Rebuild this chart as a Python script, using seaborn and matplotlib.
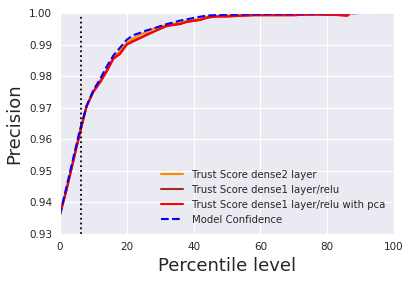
import numpy as np
import pandas as pd
import matplotlib
matplotlib.use("Agg")
import matplotlib.pyplot as plt
import seaborn as sns

sns.set_style("darkgrid")

percentiles = list(range(0, 87, 2)) + [87, 88, 90, 92, 94, 96, 98, 100]

model_conf = [0.936, 0.945, 0.954, 0.963, 0.9705, 0.9755, 0.979, 0.983, 0.9865, 0.989,
              0.9915, 0.993, 0.9937, 0.9945, 0.9951, 0.9958, 0.9965, 0.9970, 0.9976, 0.9980,
              0.9984, 0.9988, 0.9992, 0.9993, 0.9994, 0.9995,
              0.9995, 0.9996, 0.9996, 0.9996, 0.9997, 0.9997, 0.9997, 0.9997, 0.9997,
              0.9997, 0.9998, 0.9998, 0.9998, 0.9998, 0.9999, 0.9999, 0.9999, 0.9999,
              0.9999, 0.9999, 1.0, 1.0, 1.0, 1.0, 1.0, 1.0]

dense2 = [0.936, 0.9445, 0.9535, 0.9625, 0.9705, 0.9752, 0.9785, 0.982, 0.9858, 0.988,
          0.9905, 0.992, 0.9932, 0.9940, 0.9950, 0.9957, 0.9961, 0.9965, 0.9970, 0.9975,
          0.9978, 0.9982, 0.9988, 0.9990, 0.9991, 0.9992,
          0.9993, 0.9993, 0.9994, 0.9994, 0.9995, 0.9995, 0.9995, 0.9994, 0.9994,
          0.9995, 0.9996, 0.9996, 0.9996, 0.9996, 0.9997, 0.9997, 0.9996, 0.9995,
          1.0, 1.0, 1.0, 1.0, 1.0, 1.0, 1.0, 1.0]

dense1 = [0.936, 0.944, 0.953, 0.962, 0.9705, 0.975, 0.978, 0.9815, 0.9855, 0.9872,
          0.990, 0.9912, 0.9922, 0.9932, 0.9941, 0.9950, 0.9958, 0.9962, 0.9965, 0.9972,
          0.9975, 0.9978, 0.9985, 0.9988, 0.9989, 0.9989,
          0.9990, 0.9991, 0.9992, 0.9993, 0.9993, 0.9993, 0.9993, 0.9993, 0.9993,
          0.9993, 0.9994, 0.9995, 0.9995, 0.9995, 0.9994, 0.9994, 0.9993, 0.9992,
          1.0, 1.0, 1.0, 1.0, 1.0, 1.0, 1.0, 1.0]

dense1_pca = [0.936, 0.944, 0.953, 0.962, 0.9705, 0.975, 0.978, 0.9815, 0.9855, 0.987,
              0.990, 0.991, 0.992, 0.993, 0.994, 0.995, 0.996, 0.9963, 0.9965, 0.9972,
              0.9975, 0.9978, 0.9985, 0.9988, 0.9989, 0.9989,
              0.9990, 0.9991, 0.9992, 0.9993, 0.9993, 0.9993, 0.9993, 0.9993, 0.9993,
              0.9993, 0.9994, 0.9995, 0.9995, 0.9995, 0.9994, 0.9994, 0.9993, 0.9991,
              1.0, 1.0, 1.0, 1.0, 1.0, 1.0, 1.0, 1.0]

cutoff = 6.3

fig = plt.figure(figsize=(4.1, 2.82), dpi=100)
ax = fig.add_axes([0.146, 0.170, 0.815, 0.784])

sns.lineplot(x=percentiles, y=dense2, ax=ax, color="darkorange", lw=1.5,
             label="Trust Score dense2 layer")
sns.lineplot(x=percentiles, y=dense1, ax=ax, color="brown", lw=1.5,
             label="Trust Score dense1 layer/relu")
sns.lineplot(x=percentiles, y=dense1_pca, ax=ax, color="red", lw=1.5,
             label="Trust Score dense1 layer/relu with pca")
sns.lineplot(x=percentiles, y=model_conf, ax=ax, color="blue", lw=1.5,
             linestyle="--", label="Model Confidence")
ax.axvline(cutoff, color="black", linestyle=":", lw=1.3)

ax.set_xlim(0, 100)
ax.set_ylim(0.93, 1.0)
ax.set_xticks([0, 20, 40, 60, 80, 100])
ax.set_yticks([0.93, 0.94, 0.95, 0.96, 0.97, 0.98, 0.99, 1.00])
ax.set_yticklabels(["0.93", "0.94", "0.95", "0.96", "0.97", "0.98", "0.99", "1.00"])
ax.tick_params(labelsize=7.5, pad=2)
ax.set_xlabel("Percentile level", fontsize=13)
ax.set_ylabel("Precision", fontsize=13)
ax.legend(loc="lower right", fontsize=7.3, frameon=False, handlelength=2.2)

fig.savefig("out.png", dpi=100)
